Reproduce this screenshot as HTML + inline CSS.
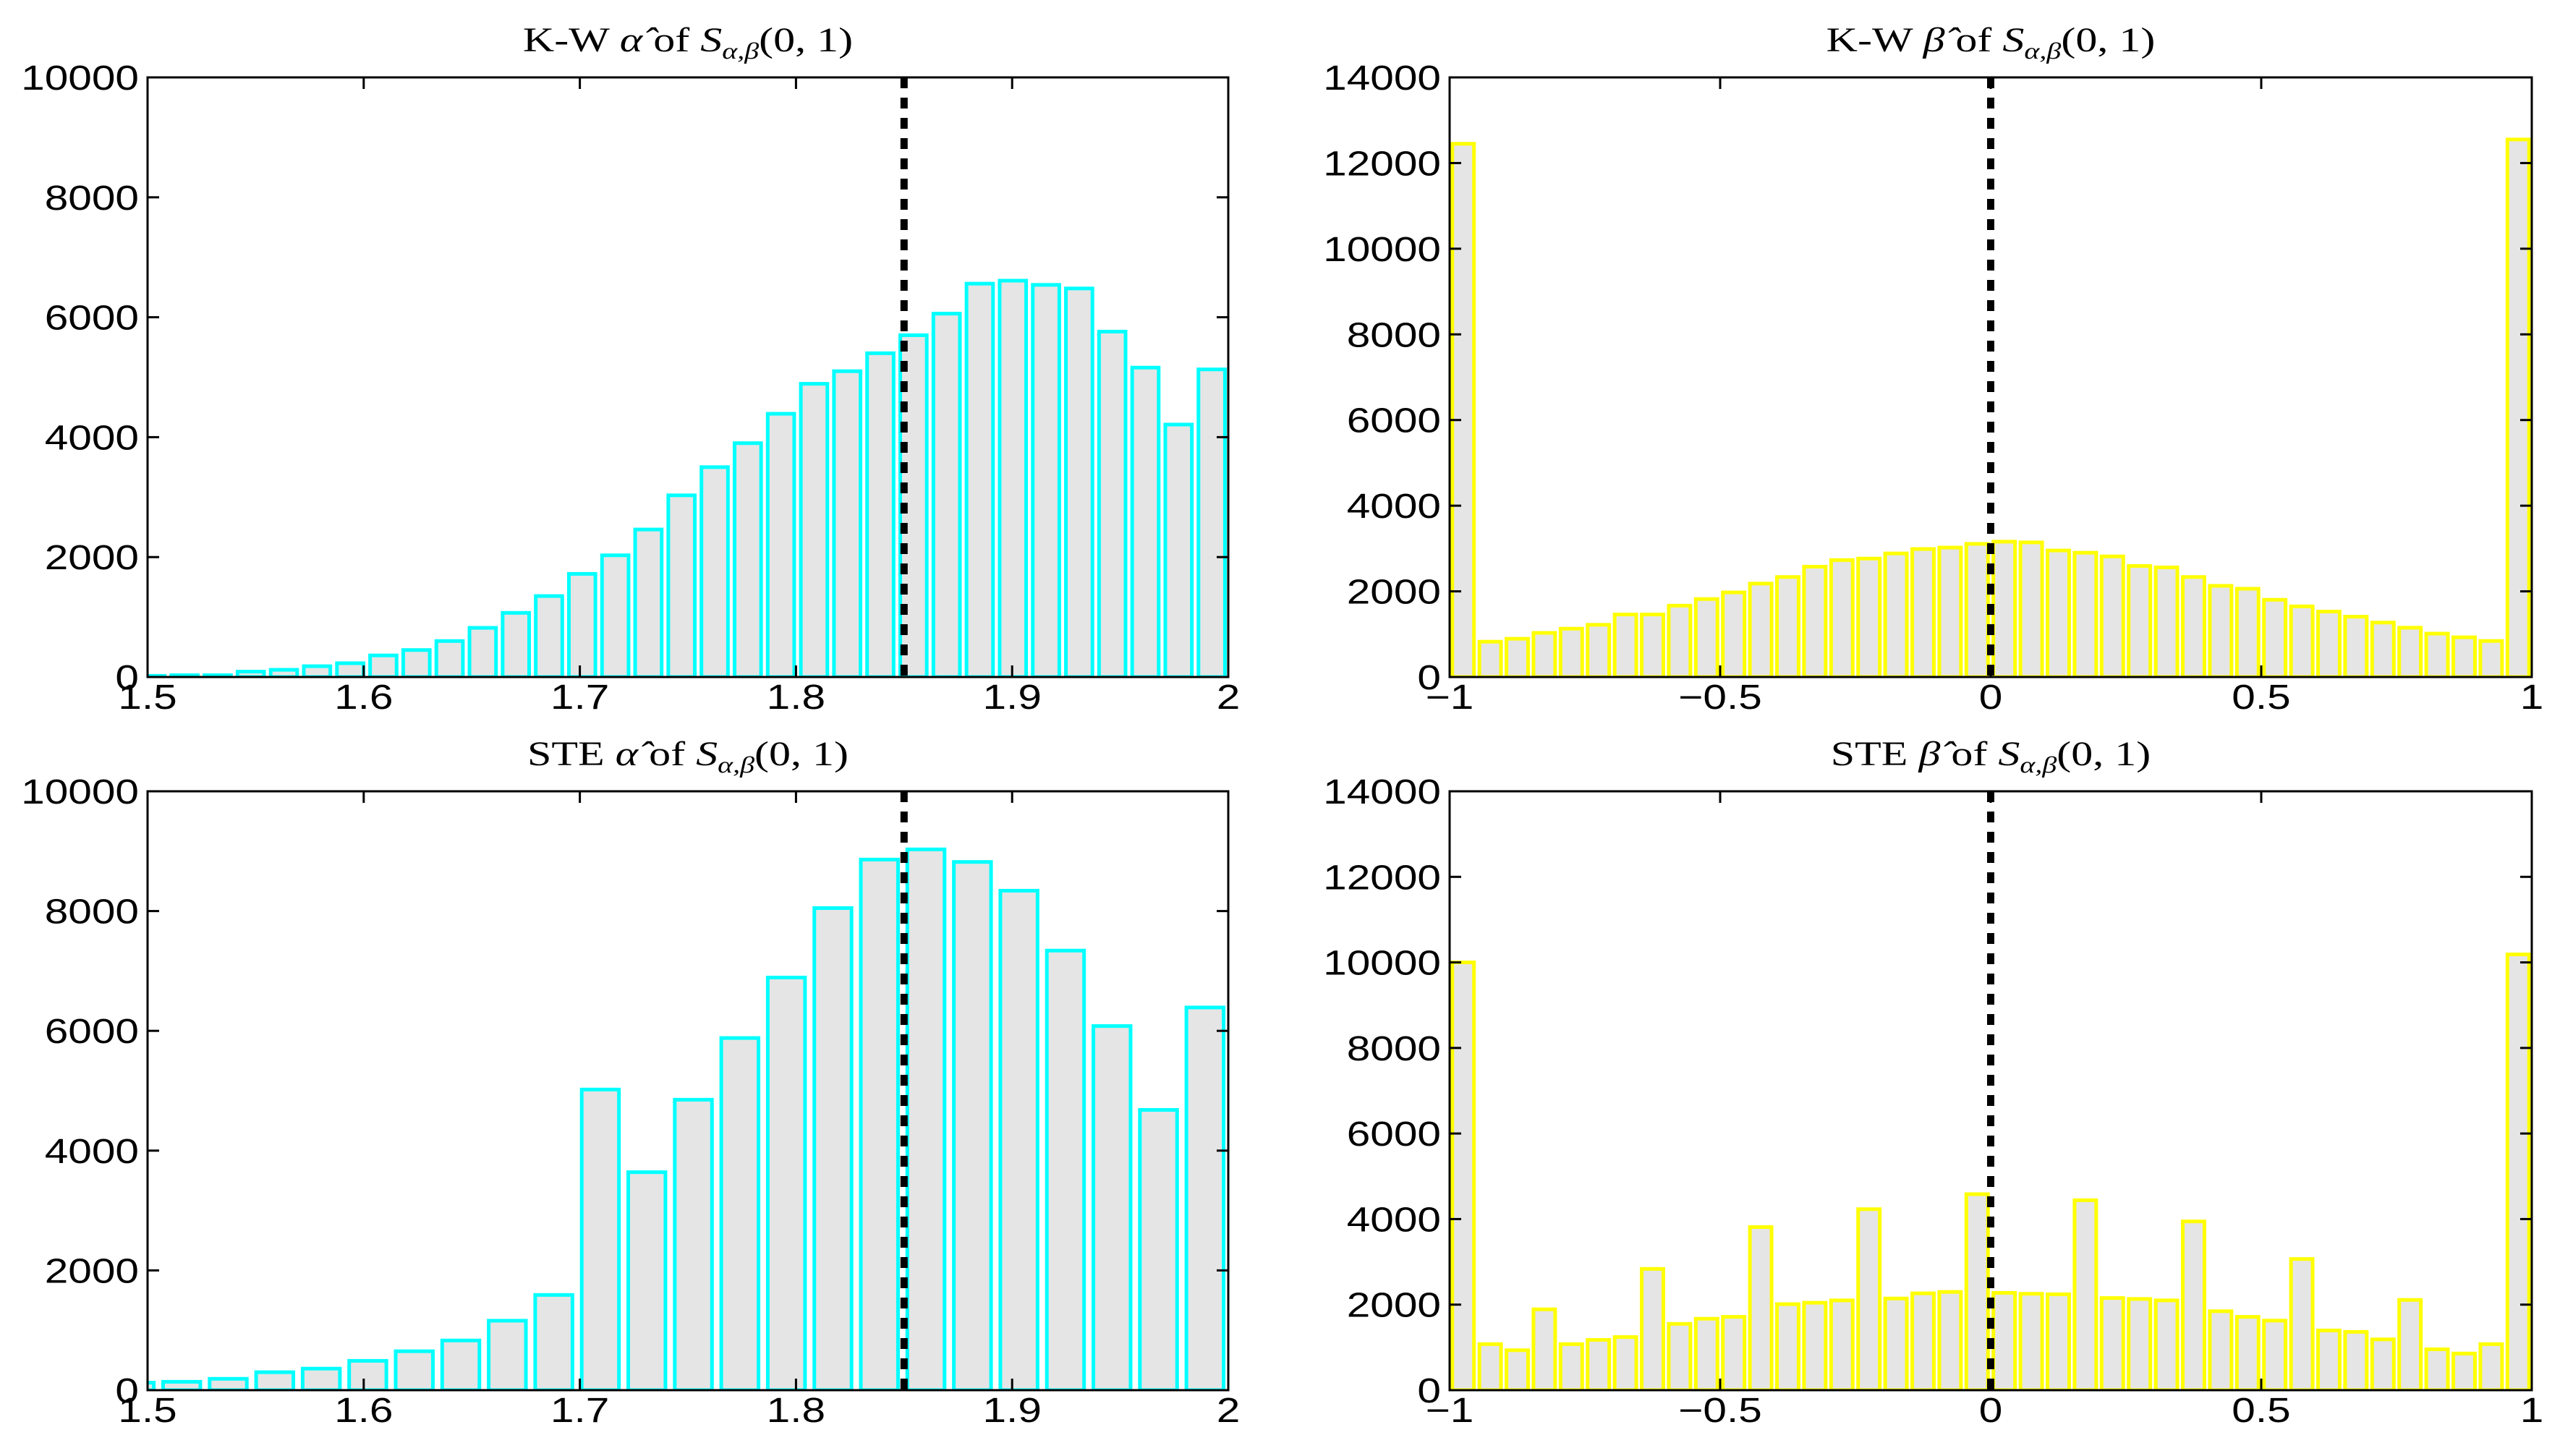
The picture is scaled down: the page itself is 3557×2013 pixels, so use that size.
<!DOCTYPE html>
<html><head><meta charset="utf-8"><style>
html,body{margin:0;padding:0;background:#fff;}
svg{display:block;}
</style></head><body>
<svg id="fig" width="3557" height="2013" viewBox="0 0 3557 2013" xmlns="http://www.w3.org/2000/svg"></svg>
<script>
// ---- data ----
const kwAlphaCounts = [20,30,30,90,120,180,230,360,450,600,820,1070,1350,1720,2030,2460,3030,3500,3900,4390,4890,5100,5400,5700,6060,6560,6610,6540,6480,5760,5160,4210,5130];
const kwAlphaBinWidth = 0.01533;
const steAlphaCounts = [125,140,190,300,360,490,650,830,1160,1590,5020,3640,4850,5880,6890,8050,8860,9030,8820,8340,7340,6080,4680,6390];
const steAlphaBinWidth = 0.02152;
const kwBetaCounts = [12450,824,893,1030,1128,1219,1460,1460,1666,1820,1975,2181,2335,2576,2730,2765,2885,2988,3022,3108,3160,3143,2954,2902,2816,2593,2559,2335,2129,2061,1803,1649,1528,1408,1271,1151,1013,927,841,12550];
const steBetaCounts = [10000,1077,934,1890,1077,1176,1242,2835,1550,1670,1714,3813,2011,2044,2099,4231,2143,2264,2297,4582,2275,2253,2242,4440,2154,2132,2099,3945,1846,1714,1626,3066,1396,1363,1187,2110,956,857,1077,10187];
const alphaXTicks = [1.5,1.6,1.7,1.8,1.9,2];
const alphaXLabels = ["1.5","1.6","1.7","1.8","1.9","2"];
const betaXTicks = [-1,-0.5,0,0.5,1];
const betaXLabels = ["\u22121","\u22120.5","0","0.5","1"];
const alphaYTicks = [0,2000,4000,6000,8000,10000];
const betaYTicks = [0,2000,4000,6000,8000,10000,12000,14000];
const alphaTrue = 1.85, betaTrue = 0;

const NS="http://www.w3.org/2000/svg";
const svg=document.getElementById('fig');
function mk(tag,attrs,parent){const e=document.createElementNS(NS,tag);for(const k in attrs)e.setAttribute(k,attrs[k]);(parent||svg).appendChild(e);return e;}
function stretch(t,f){const w=t.getComputedTextLength();t.setAttribute('textLength',w*f);t.setAttribute('lengthAdjust','spacingAndGlyphs');}

function panel(opt){
  const g=mk('g',{});
  
  
  const L=opt.L,R=opt.R,T=opt.T,B=opt.B;
  const xs=v=>L+(v-opt.xmin)/(opt.xmax-opt.xmin)*(R-L);
  const ys=v=>B-(v-0)/(opt.ymax)*(B-T);
  const clipId='clip-'+opt.name;
  const cp=mk('clipPath',{id:clipId},g);
  mk('rect',{x:L,y:T-10,width:R-L,height:B-T+10},cp);
  const bars=mk('g',{'clip-path':'url(#'+clipId+')'},g);
  opt.counts.forEach((c,i)=>{
    const center=opt.center(i);
    const x0=xs(center-opt.bw*0.4), x1=xs(center+opt.bw*0.4);
    const r=mk('rect',{x:x0,y:ys(c),width:x1-x0,height:B-ys(c),fill:'#e5e5e5',stroke:opt.color,'stroke-width':5},bars);
    
    
  });
  const dl=mk('line',{x1:xs(opt.ref),x2:xs(opt.ref),y1:T,y2:B,stroke:'#000','stroke-width':10,'stroke-dasharray':'15 13'},g);
  
  
  const box=mk('rect',{x:L,y:T,width:R-L,height:B-T,fill:'none',stroke:'#000','stroke-width':3},g);
  
  
  opt.xticks.forEach((t,i)=>{
    const x=xs(t);
    mk('line',{x1:x,x2:x,y1:B,y2:B-16,stroke:'#000','stroke-width':3},g);
    mk('line',{x1:x,x2:x,y1:T,y2:T+16,stroke:'#000','stroke-width':3},g);
    const tx=mk('text',{x:x,y:B+44,'text-anchor':'middle','font-family':'Liberation Sans, sans-serif','font-size':48},g);
    tx.textContent=opt.xlabels[i];
    
    
    stretch(tx,1.22);
  });
  opt.yticks.forEach(t=>{
    const y=ys(t);
    mk('line',{x1:L,x2:L+16,y1:y,y2:y,stroke:'#000','stroke-width':3},g);
    mk('line',{x1:R,x2:R-16,y1:y,y2:y,stroke:'#000','stroke-width':3},g);
    const tx=mk('text',{x:L-12,y:y+17,'text-anchor':'end','font-family':'Liberation Sans, sans-serif','font-size':48},g);
    tx.textContent=String(t);
    
    
    stretch(tx,1.22);
  });
  const ti=mk('text',{x:(L+R)/2,y:T-36,'text-anchor':'middle','font-family':'Liberation Serif, serif','font-size':48},g);
  
  
  ti.innerHTML=opt.prefix+' <tspan font-style="italic">'+opt.sym+'</tspan> of <tspan font-style="italic">S</tspan><tspan font-style="italic" font-size="32" dy="10">α,β</tspan><tspan dy="-10">(0, 1)</tspan>';
  stretch(ti,1.25);
}

const LT={L:204,R:1698}, RT={L:2004,R:3500};
const TOP={T:107,B:936}, BOT={T:1094,B:1922};

panel({name:'kw-alpha-panel',L:LT.L,R:LT.R,T:TOP.T,B:TOP.B,xmin:1.5,xmax:2,ymax:10000,counts:kwAlphaCounts,bw:kwAlphaBinWidth,
  center:i=>2-kwAlphaBinWidth*(kwAlphaCounts.length-1-i+0.5),color:'#00ffff',ref:alphaTrue,xticks:alphaXTicks,xlabels:alphaXLabels,yticks:alphaYTicks,prefix:'K-W',sym:'α\u0302'});
panel({name:'ste-alpha-panel',L:LT.L,R:LT.R,T:BOT.T,B:BOT.B,xmin:1.5,xmax:2,ymax:10000,counts:steAlphaCounts,bw:steAlphaBinWidth,
  center:i=>2-steAlphaBinWidth*(steAlphaCounts.length-1-i+0.5),color:'#00ffff',ref:alphaTrue,xticks:alphaXTicks,xlabels:alphaXLabels,yticks:alphaYTicks,prefix:'STE',sym:'α\u0302'});
panel({name:'kw-beta-panel',L:RT.L,R:RT.R,T:TOP.T,B:TOP.B,xmin:-1,xmax:1,ymax:14000,counts:kwBetaCounts,bw:0.05,
  center:i=>-1+0.025+i*0.05,color:'#ffff00',ref:betaTrue,xticks:betaXTicks,xlabels:betaXLabels,yticks:betaYTicks,prefix:'K-W',sym:'β\u0302'});
panel({name:'ste-beta-panel',L:RT.L,R:RT.R,T:BOT.T,B:BOT.B,xmin:-1,xmax:1,ymax:14000,counts:steBetaCounts,bw:0.05,
  center:i=>-1+0.025+i*0.05,color:'#ffff00',ref:betaTrue,xticks:betaXTicks,xlabels:betaXLabels,yticks:betaYTicks,prefix:'STE',sym:'β\u0302'});
</script>
</body></html>
